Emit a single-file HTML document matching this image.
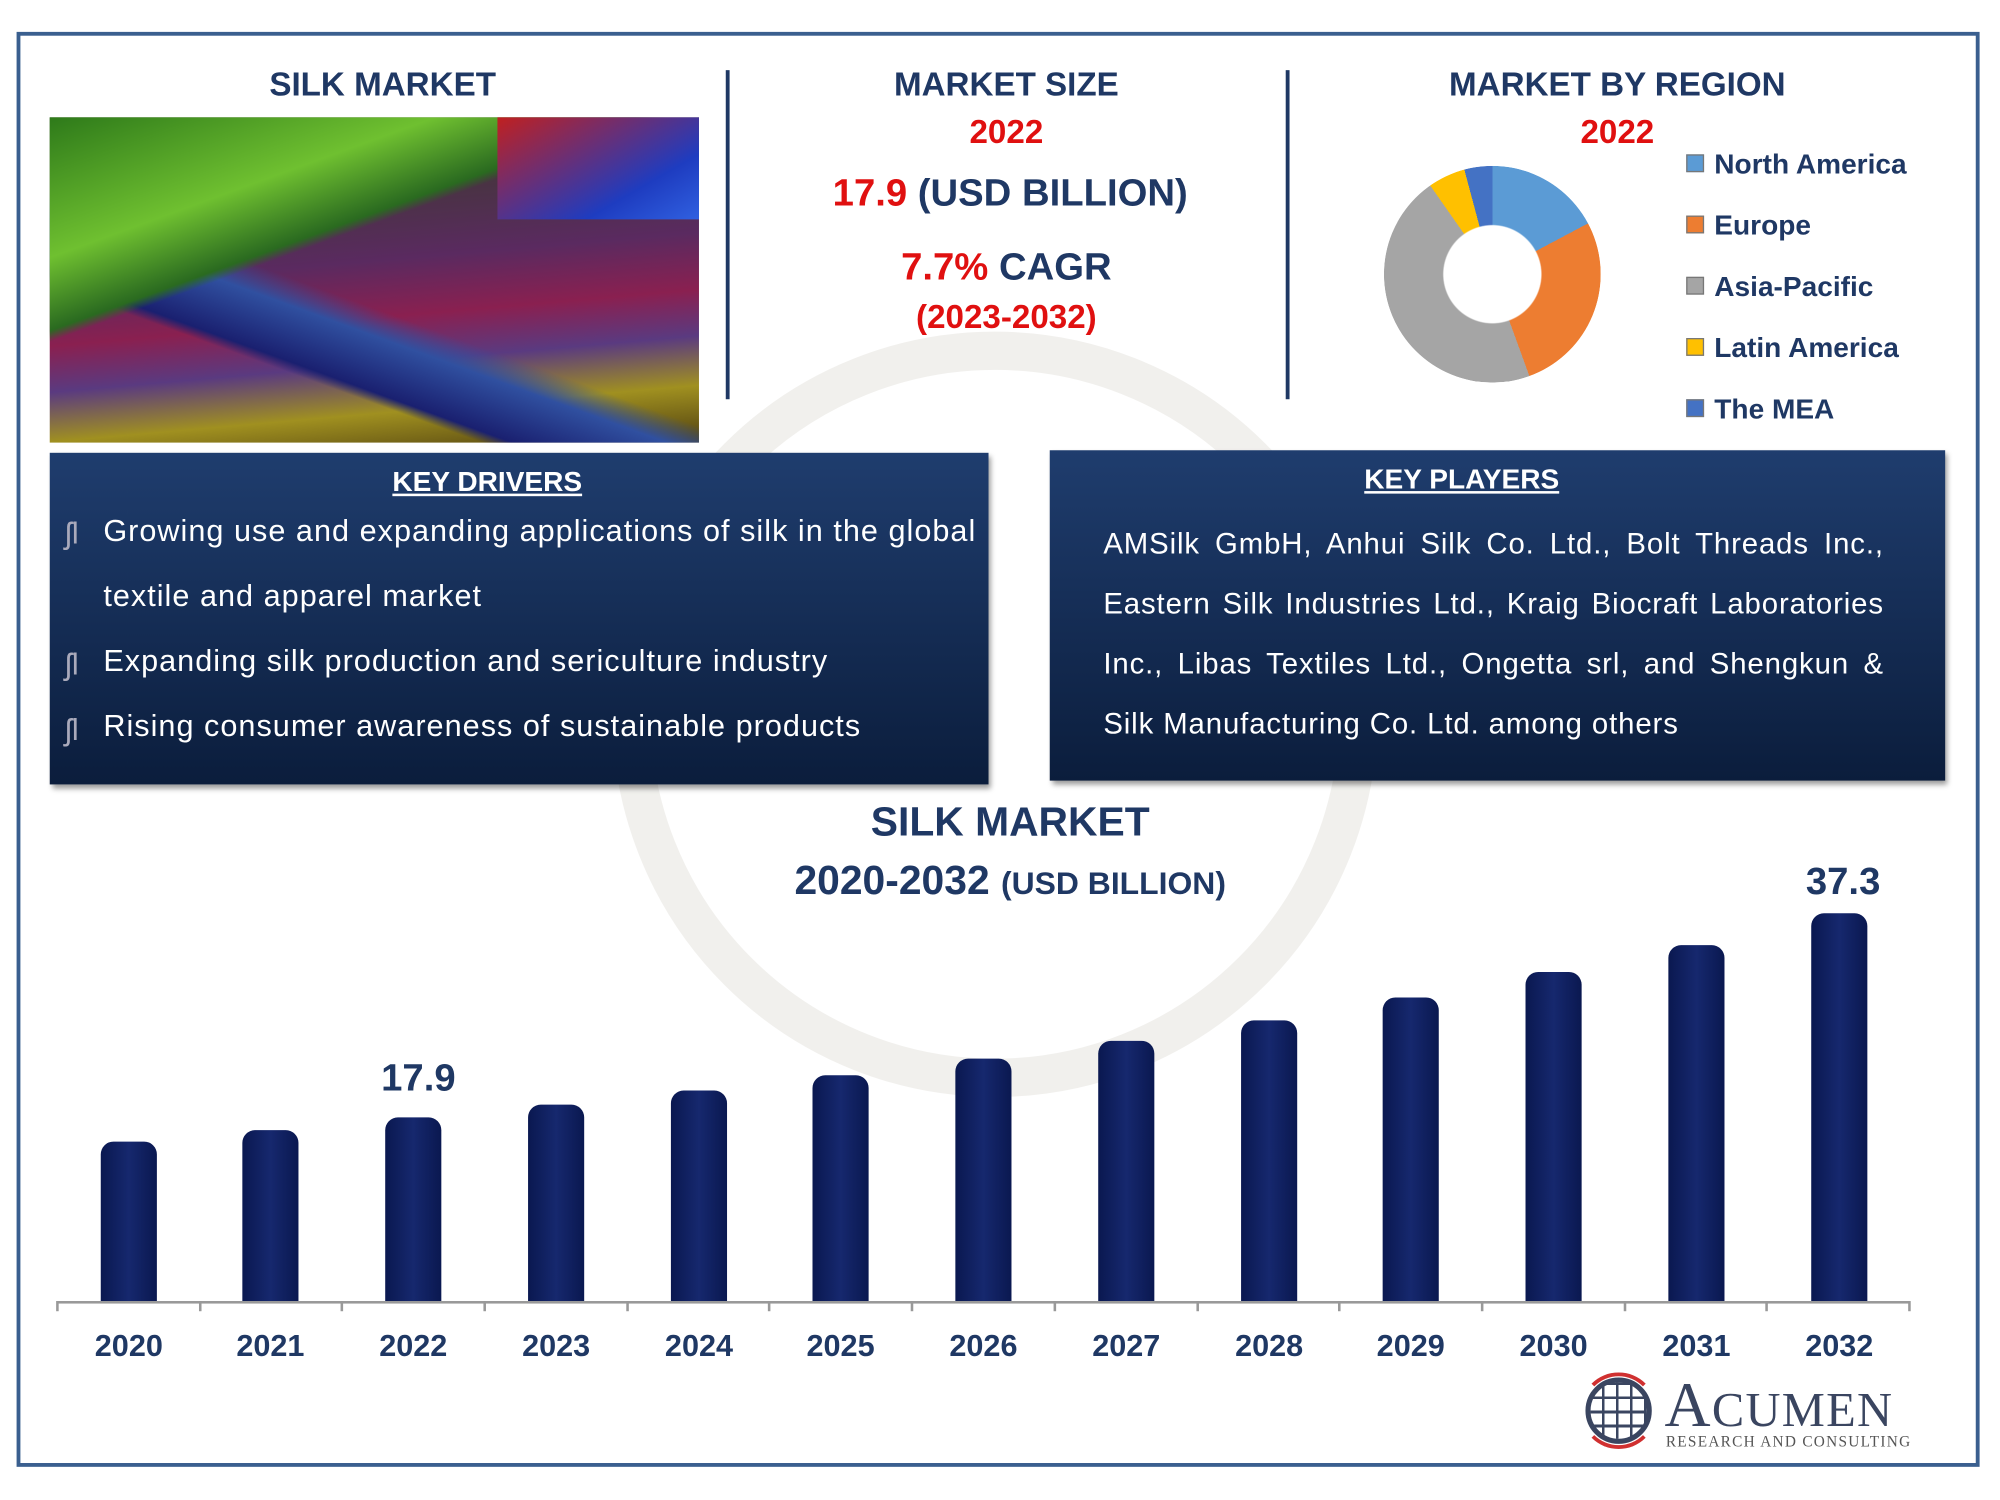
<!DOCTYPE html>
<html><head><meta charset="utf-8"><style>
html,body{margin:0;padding:0;background:#fff;width:2000px;height:1500px;overflow:hidden}
#w{position:absolute;left:0;top:0;width:1568px;height:1176px;transform:scale(1.27551);transform-origin:0 0;font-family:"Liberation Sans",sans-serif}
.a{position:absolute}
.t{position:absolute;transform:translateX(-50%);white-space:nowrap;font-weight:bold;color:#1f3864}
.box{position:absolute;background:linear-gradient(#1f3d6e,#0b1d3c);box-shadow:2px 3px 4px rgba(0,0,0,.4);color:#fff}
.box .h{position:absolute;top:10px;transform:translateX(-50%);font-weight:bold;text-decoration:underline;font-size:22px}
.bar{position:absolute;width:44px;background:linear-gradient(90deg,#0a1850,#16286e 50%,#0a1850);border-radius:10px 10px 0 0;bottom:156px}
.yr{position:absolute;top:1042px;transform:translateX(-50%);font-weight:bold;font-size:24px;color:#1f3864}
.lg{position:absolute;left:1322px;font-weight:bold;font-size:22px;color:#1f3864}
.lg i{display:inline-block;width:12px;height:12px;margin-right:8px;border:1px solid #777;vertical-align:1px}
.dr{position:absolute;left:42px;font-size:24px;line-height:51px;letter-spacing:0.8px;white-space:nowrap}
</style></head><body><div id="w">
<div class="a" style="left:13px;top:25px;width:1533px;height:1119px;border:3px solid #3a5f8f"></div>
<div class="a" style="left:480px;top:260px;width:600px;height:600px;border-radius:50%;border:30px solid rgba(200,195,185,.25);box-sizing:border-box"></div>
<div class="t" style="left:300px;top:51px;font-size:26px">SILK MARKET</div>
<div class="a" style="left:39px;top:92px;width:509px;height:255px;background:
linear-gradient(160deg,#2e7a1a 0%,#6fc030 25%,#2a6a20 38%,transparent 40%),
linear-gradient(200deg,transparent 55%,#3050a0 60%,#1a2070 70%,transparent 72%),
linear-gradient(175deg,#304018 0%,#5a2a60 45%,#8a2050 60%,#5a3a80 72%,#a09020 85%,#504010 100%)"></div>
<div class="a" style="left:390px;top:92px;width:158px;height:80px;background:linear-gradient(150deg,#c02020,#1e3cc0 70%,#3060e0)"></div>
<div class="a" style="left:569px;top:55px;width:3px;height:258px;background:#1f3864"></div>
<div class="a" style="left:1008px;top:55px;width:3px;height:258px;background:#1f3864"></div>
<div class="t" style="left:789px;top:51px;font-size:26px">MARKET SIZE</div>
<div class="t" style="left:789px;top:88px;font-size:26px;color:#e01010">2022</div>
<div class="t" style="left:792px;top:135px;font-size:30px"><span style="color:#e01010">17.9</span> (USD BILLION)</div>
<div class="t" style="left:789px;top:193px;font-size:30px"><span style="color:#e01010">7.7%</span> CAGR</div>
<div class="t" style="left:789px;top:233px;font-size:26px;color:#e01010">(2023-2032)</div>
<div class="t" style="left:1268px;top:51px;font-size:26px">MARKET BY REGION</div>
<div class="t" style="left:1268px;top:88px;font-size:26px;color:#e01010">2022</div>
<div class="a" style="left:1085px;top:130px;width:170px;height:170px;border-radius:50%;background:conic-gradient(#5b9bd5 0 62deg,#ed7d31 62deg 160deg,#a5a5a5 160deg 325deg,#ffc000 325deg 345deg,#4472c4 345deg 360deg);-webkit-mask:radial-gradient(circle,transparent 38px,#000 39px);mask:radial-gradient(circle,transparent 38px,#000 39px)"></div>
<div class="lg" style="top:116px"><i style="background:#5b9bd5"></i>North America</div>
<div class="lg" style="top:164px"><i style="background:#ed7d31"></i>Europe</div>
<div class="lg" style="top:212px"><i style="background:#a5a5a5"></i>Asia-Pacific</div>
<div class="lg" style="top:260px"><i style="background:#ffc000"></i>Latin America</div>
<div class="lg" style="top:308px"><i style="background:#4472c4"></i>The MEA</div>
<div class="box" style="left:39px;top:355px;width:736px;height:260px">
<div class="h" style="left:343px">KEY DRIVERS</div>
<div class="dr" style="top:36px">Growing use and expanding applications of silk in the global<br>textile and apparel market</div>
<div class="dr" style="top:138px">Expanding silk production and sericulture industry</div>
<div class="dr" style="top:189px">Rising consumer awareness of sustainable products</div>
<div class="a" style="left:12px;top:50px;font-size:24px;color:#aab">ʃl</div>
<div class="a" style="left:12px;top:153px;font-size:24px;color:#aab">ʃl</div>
<div class="a" style="left:12px;top:204px;font-size:24px;color:#aab">ʃl</div>
</div>
<div class="box" style="left:823px;top:353px;width:702px;height:259px">
<div class="h" style="left:323px">KEY PLAYERS</div>
<div class="a" style="left:42px;top:50px;width:612px;font-size:23px;line-height:47px;text-align:justify;letter-spacing:0.7px">AMSilk GmbH, Anhui Silk Co. Ltd., Bolt Threads Inc., Eastern Silk Industries Ltd., Kraig Biocraft Laboratories Inc., Libas Textiles Ltd., Ongetta srl, and Shengkun &amp; Silk Manufacturing Co. Ltd. among others</div>
</div>
<div class="t" style="left:792px;top:626px;font-size:32px">SILK MARKET</div>
<div class="t" style="left:792px;top:672px;font-size:32px">2020-2032 <span style="font-size:25px">(USD BILLION)</span></div>
<div class="bar" style="left:79px;top:895px"></div>
<div class="bar" style="left:190px;top:886px"></div>
<div class="bar" style="left:302px;top:876px"></div>
<div class="bar" style="left:414px;top:866px"></div>
<div class="bar" style="left:526px;top:855px"></div>
<div class="bar" style="left:637px;top:843px"></div>
<div class="bar" style="left:749px;top:830px"></div>
<div class="bar" style="left:861px;top:816px"></div>
<div class="bar" style="left:973px;top:800px"></div>
<div class="bar" style="left:1084px;top:782px"></div>
<div class="bar" style="left:1196px;top:762px"></div>
<div class="bar" style="left:1308px;top:741px"></div>
<div class="bar" style="left:1420px;top:716px"></div>
<div class="a" style="left:45px;top:1020px;width:1452px;height:2px;background:#999"></div>
<svg class="a" style="left:0;top:0" width="1568" height="1040"><g stroke="#999" stroke-width="2">
<line x1="45" y1="1020" x2="45" y2="1028"/><line x1="157" y1="1020" x2="157" y2="1028"/><line x1="268" y1="1020" x2="268" y2="1028"/><line x1="380" y1="1020" x2="380" y2="1028"/><line x1="492" y1="1020" x2="492" y2="1028"/><line x1="603" y1="1020" x2="603" y2="1028"/><line x1="715" y1="1020" x2="715" y2="1028"/><line x1="827" y1="1020" x2="827" y2="1028"/><line x1="939" y1="1020" x2="939" y2="1028"/><line x1="1050" y1="1020" x2="1050" y2="1028"/><line x1="1162" y1="1020" x2="1162" y2="1028"/><line x1="1274" y1="1020" x2="1274" y2="1028"/><line x1="1385" y1="1020" x2="1385" y2="1028"/><line x1="1497" y1="1020" x2="1497" y2="1028"/></g></svg>
<div class="yr" style="left:101px">2020</div><div class="yr" style="left:212px">2021</div><div class="yr" style="left:324px">2022</div><div class="yr" style="left:436px">2023</div><div class="yr" style="left:548px">2024</div><div class="yr" style="left:659px">2025</div><div class="yr" style="left:771px">2026</div><div class="yr" style="left:883px">2027</div><div class="yr" style="left:995px">2028</div><div class="yr" style="left:1106px">2029</div><div class="yr" style="left:1218px">2030</div><div class="yr" style="left:1330px">2031</div><div class="yr" style="left:1442px">2032</div>
<div class="t" style="left:328px;top:829px;font-size:30px">17.9</div>
<div class="t" style="left:1445px;top:675px;font-size:30px">37.3</div>
<div class="a" style="left:1243px;top:1080px;width:52px;height:52px;border-radius:50%;border:4px solid #3a4560;box-sizing:border-box;background:repeating-linear-gradient(90deg,transparent 0 9px,#3a4560 9px 11px),repeating-linear-gradient(0deg,#fff 0 9px,#3a4560 9px 11px)"></div>
<div class="a" style="left:1239px;top:1076px;width:60px;height:60px;border-radius:50%;border:3px solid #d03030;box-sizing:border-box;border-left-color:transparent;border-right-color:transparent"></div>
<div class="a" style="left:1305px;top:1072px;font-family:'Liberation Serif',serif;font-size:50px;color:#3a4560;letter-spacing:1px">A<span style="font-size:38px">CUMEN</span></div>
<div class="a" style="left:1306px;top:1123px;font-family:'Liberation Serif',serif;font-size:12px;color:#555;letter-spacing:1px">RESEARCH AND CONSULTING</div>
</div></body></html>
